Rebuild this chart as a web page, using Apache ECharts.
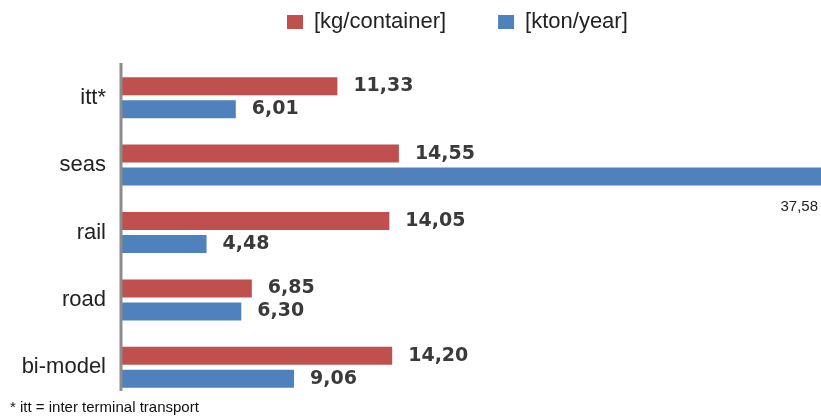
<!DOCTYPE html>
<html>
<head>
<meta charset="utf-8">
<script src="https://cdn.jsdelivr.net/npm/echarts@6/dist/echarts.min.js"></script>
<style>
  html, body { margin: 0; padding: 0; background: #fff; }
  #chart { width: 821px; height: 418px; }
</style>
</head>
<body>
<div id="chart"></div>
<script>
// categories top to bottom
const categories = ['itt*', 'seas', 'rail', 'road', 'bi-model'];
const kgPerContainer = [11.33, 14.55, 14.05, 6.85, 14.20];
const ktonPerYear = [6.01, 37.58, 4.48, 6.30, 9.06];
const seriesNames = ['[kg/container]', '[kton/year]'];
const footnote = '* itt = inter terminal transport';

const fmt = v => v.toFixed(2).replace('.', ',');

const chart = echarts.init(document.getElementById('chart'));

const valueLabel = {
    show: true,
    position: 'right',
    distance: 16,
    fontFamily: 'DejaVu Sans',
    fontSize: 19,
    fontWeight: 'bold',
    color: '#3a3a3a',
    formatter: p => fmt(p.value)
};

// the seas value runs off the plot, its label sits under the bar end
const ktonData = ktonPerYear.map((v, i) => {
    if (categories[i] !== 'seas') return v;
    return {
        value: v,
        label: {
            position: 'insideBottomRight',
            offset: [13, 45],
            fontFamily: 'Liberation Sans',
            fontSize: 15,
            fontWeight: 'normal',
            color: '#222'
        }
    };
});

const option = {
    backgroundColor: '#fff',
    animation: false,
    legend: {
        left: 282,
        top: 6,
        icon: 'rect',
        itemWidth: 16,
        itemHeight: 14,
        itemGap: 52,
        textStyle: { fontFamily: 'Liberation Sans', fontSize: 22, color: '#222', padding: [0, 0, 0, 6] },
        data: seriesNames
    },
    grid: { left: 121, right: 0, top: 64, bottom: 17 },
    xAxis: {
        type: 'value',
        min: 0,
        max: 36.65,
        show: false
    },
    yAxis: {
        type: 'category',
        data: categories,
        inverse: true,
        axisLine: { show: false },
        axisTick: { show: false },
        axisLabel: {
            margin: 15,
            fontFamily: 'Liberation Sans',
            fontSize: 22,
            color: '#222'
        }
    },
    series: [
        {
            name: seriesNames[0],
            type: 'bar',
            data: kgPerContainer,
            barWidth: 18,
            barGap: '28%',
            itemStyle: { color: '#C0504D' },
            label: valueLabel
        },
        {
            name: seriesNames[1],
            type: 'bar',
            data: ktonData,
            barWidth: 18,
            barGap: '28%',
            itemStyle: { color: '#4F81BD' },
            label: valueLabel
        }
    ],
    graphic: [
        {
            // axis line stops a bit above the plot bottom in the original
            type: 'line',
            shape: { x1: 121, y1: 63, x2: 121, y2: 391 },
            style: { stroke: '#8c8c8c', lineWidth: 3 },
            z: 10
        },
        {
            type: 'text',
            left: 10,
            top: 400,
            style: { text: footnote, fontFamily: 'Liberation Sans', fontSize: 15, fill: '#111' }
        }
    ]
};

chart.setOption(option);
</script>
</body>
</html>
